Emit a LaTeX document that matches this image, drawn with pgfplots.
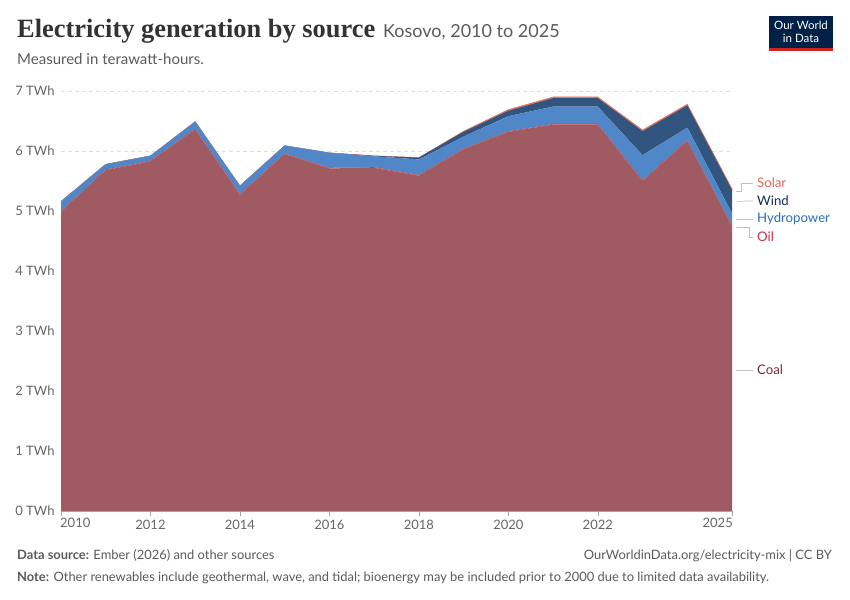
\documentclass[border=0pt]{standalone}
\usepackage{pgfplots}
\pgfplotsset{compat=1.18}
\usepackage{fontspec}
\setmainfont{Lato}
\newfontfamily\titlefont{Liberation Serif}
\definecolor{coalc}{HTML}{A05A61}
\definecolor{oilc}{HTML}{B8404F}
\definecolor{hydroc}{HTML}{5087C8}
\definecolor{windc}{HTML}{325580}
\definecolor{solarc}{HTML}{E07560}
\definecolor{coalt}{HTML}{7F2A33}
\definecolor{oilt}{HTML}{C0354B}
\definecolor{hydrot}{HTML}{2A6EBB}
\definecolor{windt}{HTML}{0E2D5A}
\definecolor{solart}{HTML}{E06A55}
\definecolor{txtgray}{HTML}{5B5B5B}
\definecolor{tickgray}{HTML}{666666}
\definecolor{owidnavy}{HTML}{002147}
\definecolor{owidred}{HTML}{CE261E}
\pgfplotstableread{
year coal oil hydro wind solar
2010 4.99 0.01 0.16 0.00 0.00
2011 5.68 0.01 0.09 0.00 0.00
2012 5.83 0.01 0.08 0.00 0.00
2013 6.36 0.01 0.12 0.00 0.00
2014 5.27 0.01 0.14 0.00 0.00
2015 5.95 0.01 0.13 0.00 0.00
2016 5.71 0.01 0.25 0.00 0.00
2017 5.72 0.01 0.18 0.01 0.00
2018 5.59 0.01 0.26 0.03 0.00
2019 6.03 0.01 0.20 0.08 0.01
2020 6.32 0.01 0.25 0.09 0.02
2021 6.44 0.01 0.29 0.14 0.02
2022 6.44 0.01 0.29 0.14 0.02
2023 5.50 0.01 0.42 0.40 0.02
2024 6.17 0.01 0.21 0.37 0.02
2025 4.75 0.01 0.20 0.39 0.02
}\datatable
\begin{document}
\begin{tikzpicture}
\path[use as bounding box, fill=white] (0,0) rectangle (850bp,600bp);
% title
\node[anchor=base west, inner sep=0pt, text=black!80] at (17bp,562bp)
  {\fontsize{26.4bp}{30bp}\titlefont\bfseries Electricity generation by source};
\node[anchor=base west, inner sep=0pt, text=txtgray] at (383bp,562bp)
  {\fontsize{18bp}{21bp}\selectfont Kosovo, 2010 to 2025};
\node[anchor=base west, inner sep=0pt, text=txtgray] at (17bp,535bp)
  {\fontsize{15bp}{18bp}\selectfont Measured in terawatt-hours.};
% logo
\fill[owidnavy] (769bp,552bp) rectangle (833bp,584bp);
\fill[owidred] (769bp,549bp) rectangle (833bp,552bp);
\node[text=white, align=center, inner sep=0pt, font=\fontsize{11.5bp}{12.5bp}\selectfont] at (801bp,568bp) {Our World\\in Data};
% footer
\node[anchor=base west, inner sep=0pt, text=txtgray] at (17bp,40bp)
  {\fontsize{12.9bp}{15bp}\selectfont\textbf{Data source:} Ember (2026) and other sources};
\node[anchor=base east, inner sep=0pt, text=txtgray] at (832bp,40bp)
  {\fontsize{12.9bp}{15bp}\selectfont OurWorldinData.org/electricity-mix | CC BY};
\node[anchor=base west, inner sep=0pt, text=txtgray] at (17bp,19bp)
  {\fontsize{12.9bp}{15bp}\selectfont\textbf{Note:} Other renewables include geothermal, wave, and tidal; bioenergy may be included prior to 2000 due to limited data availability.};
\begin{axis}[
  at={(61bp,89bp)}, anchor=south west,
  width=671bp, height=420bp, scale only axis,
  xmin=2010, xmax=2025, ymin=0, ymax=7,
  axis line style={draw=none},
  xtick={2010,2012,2014,2016,2018,2020,2022,2025},
  xticklabels={{},2012,2014,2016,2018,2020,2022,{}},
  ytick={0,1,...,7},
  yticklabel={\pgfmathprintnumber{\tick} TWh},
  /pgf/number format/assume math mode=true,
  /pgf/number format/1000 sep={},
  xtick pos=bottom, tick align=outside,
  major tick length=5bp,
  xtick style={draw=black!35, line width=0.6pt},
  ytick style={draw=none},
  ymajorgrids,
  grid style={dash pattern=on 4bp off 3bp, draw=black!13, line width=0.6pt},
  ticklabel style={font=\fontsize{13bp}{15bp}\selectfont, text=tickgray},
  yticklabel style={xshift=2bp},
  xticklabel style={yshift=-1bp},
  stack plots=y,
  clip=false,
]
\addplot[fill=coalc, draw=none] table[x=year,y=coal]{\datatable} \closedcycle;
\addplot[fill=oilc, draw=none] table[x=year,y=oil]{\datatable} \closedcycle;
\addplot[fill=hydroc, draw=none] table[x=year,y=hydro]{\datatable} \closedcycle;
\addplot[fill=windc, draw=none] table[x=year,y=wind]{\datatable} \closedcycle;
\addplot[fill=solarc, draw=solarc, line width=0.5pt] table[x=year,y=solar]{\datatable} \closedcycle;
\end{axis}
\draw[black!35, line width=0.6pt] (61bp,89bp) -- (732bp,89bp);
\node[anchor=north west, inner sep=0pt, text=tickgray, font=\fontsize{13bp}{15bp}\selectfont] at (60bp,82bp) {2010};
\node[anchor=north east, inner sep=0pt, text=tickgray, font=\fontsize{13bp}{15bp}\selectfont] at (733bp,82bp) {2025};
% labels with leader lines
\begin{scope}[draw=black!25, line width=0.6pt]
\draw (736bp,409bp) -- (741bp,409bp) -- (741bp,417bp) -- (753bp,417bp);
\draw (736bp,398bp) -- (745bp,399bp) -- (753bp,399bp);
\draw (736bp,381bp) -- (753bp,381bp);
\draw (736bp,373bp) -- (749bp,373bp) -- (749bp,363bp) -- (753bp,363bp);
\draw (736bp,230bp) -- (753bp,230bp);
\end{scope}
\begin{scope}[every node/.style={anchor=west, inner sep=0pt, font=\fontsize{13.2bp}{16bp}\selectfont}]
\node[text=solart] at (757bp,417bp) {Solar};
\node[text=windt] at (757bp,399bp) {Wind};
\node[text=hydrot] at (757bp,381bp) {Hydropower};
\node[text=oilt] at (757bp,363bp) {Oil};
\node[text=coalt] at (757bp,230bp) {Coal};
\end{scope}
\end{tikzpicture}
\end{document}
